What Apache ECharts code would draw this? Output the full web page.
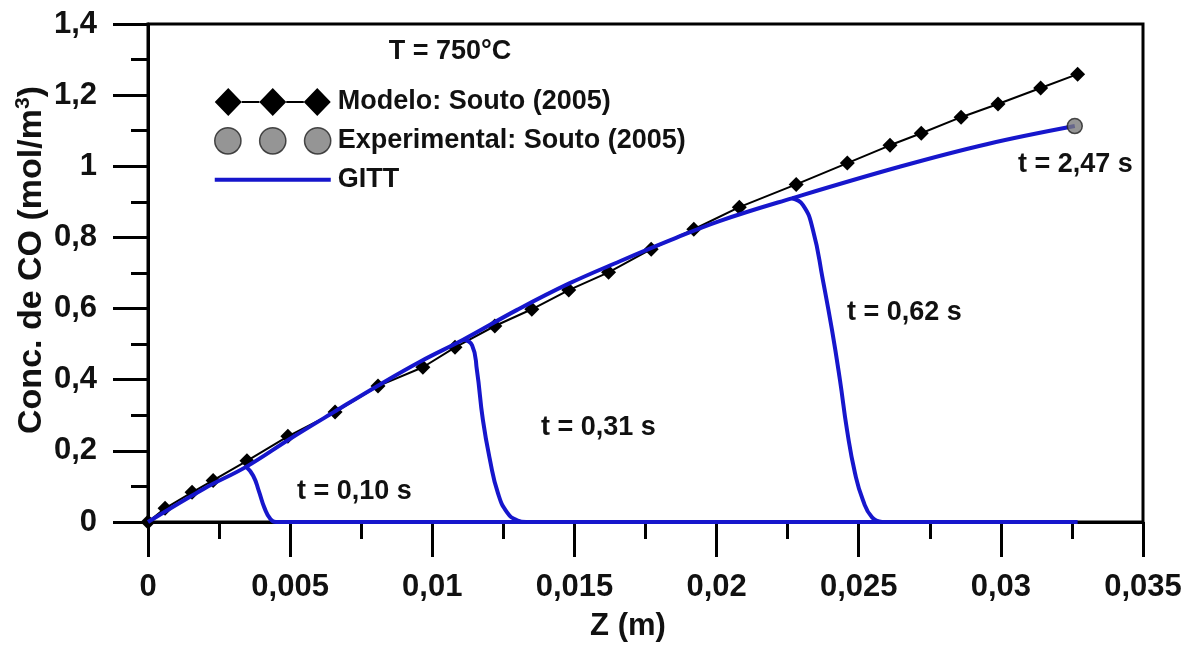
<!DOCTYPE html>
<html>
<head>
<meta charset="utf-8">
<script src="https://cdn.jsdelivr.net/npm/echarts@6/dist/echarts.min.js"></script>
<style>
html,body{margin:0;padding:0;background:#fff;}
#c{width:1188px;height:645px;}
</style>
</head>
<body>
<div id="c"></div>
<script>
// ---- data ----
const xTicksMax = 0.035;
const yTicksMax = 1.4;

const zModelo = [0, 0.0006, 0.00155, 0.00229, 0.00348, 0.00492, 0.00658, 0.00809, 0.00967, 0.0108, 0.0122, 0.0135, 0.0148, 0.0162, 0.0177, 0.0192, 0.0208, 0.0228, 0.0246, 0.0261, 0.0272, 0.0286, 0.0299, 0.0314, 0.0327];
const cModelo = [0, 0.0385, 0.0835, 0.117, 0.172, 0.241, 0.309, 0.382, 0.435, 0.491, 0.551, 0.598, 0.652, 0.702, 0.767, 0.823, 0.885, 0.949, 1.009, 1.059, 1.093, 1.138, 1.175, 1.220, 1.259];

const zExp = [0.0326];
const cExp = [1.113];

// GITT, t = 2,47 s (steady profile)
const zGitt247 = [0, 0.002, 0.00345, 0.005, 0.0066, 0.0081, 0.0096, 0.0111, 0.013, 0.0148, 0.0166, 0.0184, 0.0201, 0.02265, 0.0265, 0.0295, 0.0326];
const cGitt247 = [0, 0.095, 0.155, 0.234, 0.312, 0.384, 0.452, 0.513, 0.597, 0.670, 0.733, 0.793, 0.846, 0.910, 1.000, 1.062, 1.113];

// GITT, t = 0,10 s (front + zero tail)
const zGitt010 = [0.00345, 0.0037, 0.0039, 0.0041, 0.0043, 0.0045, 0.0327];
const cGitt010 = [0.155, 0.130, 0.087, 0.039, 0.009, 0, 0];

// GITT, t = 0,31 s
const zGitt031 = [0.0111, 0.0114, 0.01157, 0.01178, 0.01203, 0.01231, 0.01263, 0.01298, 0.0133];
const cGitt031 = [0.513, 0.497, 0.427, 0.287, 0.174, 0.081, 0.027, 0.005, 0];

// GITT, t = 0,62 s
const zGitt062 = [0.02265, 0.02304, 0.02339, 0.02374, 0.02406, 0.02434, 0.02459, 0.02487, 0.02515, 0.02547, 0.02582];
const cGitt062 = [0.910, 0.891, 0.821, 0.680, 0.540, 0.399, 0.258, 0.137, 0.061, 0.013, 0];

const legendNames = ['Modelo: Souto (2005)', 'Experimental: Souto (2005)', 'GITT'];
const annotations = ['t = 0,10 s', 't = 0,31 s', 't = 0,62 s', 't = 2,47 s'];

// ---- chart ----
const zip = (a, b) => a.map((v, i) => [v, b[i]]);
const FONT = 'Liberation Sans, Arial, sans-serif';
const BLUE = '#1616cc';
const fmt = v => String(Number(v.toFixed(4))).replace('.', ',');

const diamondsIcon = 'path://M0 14 L13.5 0 L27 14 L13.5 28 Z M44.5 14 L58 0 L71.5 14 L58 28 Z M89 14 L102.5 0 L116 14 L102.5 28 Z M27 13 L44.5 13 L44.5 15 L27 15 Z M71.5 13 L89 13 L89 15 L71.5 15 Z';
const circlesIcon = 'path://M0.5 14 A13 13 0 1 1 26.5 14 A13 13 0 1 1 0.5 14 Z M45 14 A13 13 0 1 1 71 14 A13 13 0 1 1 45 14 Z M89.5 14 A13 13 0 1 1 115.5 14 A13 13 0 1 1 89.5 14 Z';
const lineIcon = 'path://M0 0 L0.01 0 L0 0.01 Z M116 28 L115.99 28 L116 27.99 Z M0 12 L116 12 L116 16 L0 16 Z';

const chart = echarts.init(document.getElementById('c'));
const gittLine = {color: BLUE, width: 4};
const TXT = '#111';

chart.setOption({
  animation: false,
  backgroundColor: '#fff',
  grid: {left: 148, right: 45, top: 24, bottom: 123, show: true, borderColor: '#000', borderWidth: 3, backgroundColor: 'transparent'},
  xAxis: {
    type: 'value', min: 0, max: xTicksMax, interval: 0.005,
    axisLine: {show: true, onZero: false, lineStyle: {color: '#000', width: 3}},
    axisTick: {show: true, inside: false, length: 35, lineStyle: {color: '#000', width: 3}},
    minorTick: {show: true, splitNumber: 2, length: 17, lineStyle: {color: '#000', width: 3}},
    splitLine: {show: false},
    axisLabel: {fontFamily: FONT, fontWeight: 'bold', fontSize: 31, color: TXT, margin: 50, formatter: fmt, showMinLabel: true, showMaxLabel: true}
  },
  yAxis: {
    type: 'value', min: 0, max: yTicksMax, interval: 0.2,
    axisLine: {show: true, onZero: false, lineStyle: {color: '#000', width: 3}},
    axisTick: {show: true, inside: false, length: 35, lineStyle: {color: '#000', width: 3}},
    minorTick: {show: true, splitNumber: 2, length: 17, lineStyle: {color: '#000', width: 3}},
    splitLine: {show: false},
    axisLabel: {fontFamily: FONT, fontWeight: 'bold', fontSize: 31, color: TXT, margin: 51, formatter: fmt, showMinLabel: true, showMaxLabel: true}
  },
  legend: {
    orient: 'vertical', left: 209, top: 83, itemWidth: 116, itemHeight: 28, itemGap: 11,
    selectedMode: false,
    textStyle: {fontFamily: FONT, fontWeight: 'bold', fontSize: 27, color: TXT, padding: [0, 0, 0, 2]},
    data: [
      {name: legendNames[0], icon: diamondsIcon, itemStyle: {color: '#000', borderWidth: 0}},
      {name: legendNames[1], icon: circlesIcon, itemStyle: {color: '#7a7a7a', borderColor: '#222', borderWidth: 1.5}},
      {name: legendNames[2], icon: lineIcon, itemStyle: {color: BLUE, borderWidth: 0}}
    ]
  },
  graphic: [
    {type: 'text', x: 450, y: 52, style: {text: 'T = 750°C', font: 'bold 27px ' + FONT, fill: TXT, align: 'center', verticalAlign: 'middle'}},
    {type: 'text', x: 297, y: 492, style: {text: annotations[0], font: 'bold 27px ' + FONT, fill: TXT, align: 'left', verticalAlign: 'middle'}},
    {type: 'text', x: 541, y: 428, style: {text: annotations[1], font: 'bold 27px ' + FONT, fill: TXT, align: 'left', verticalAlign: 'middle'}},
    {type: 'text', x: 847, y: 313, style: {text: annotations[2], font: 'bold 27px ' + FONT, fill: TXT, align: 'left', verticalAlign: 'middle'}},
    {type: 'text', x: 1018, y: 165, style: {text: annotations[3], font: 'bold 27px ' + FONT, fill: TXT, align: 'left', verticalAlign: 'middle'}},
    {type: 'text', x: 628, y: 626, style: {text: 'Z (m)', font: 'bold 31px ' + FONT, fill: TXT, align: 'center', verticalAlign: 'middle'}},
    {type: 'text', x: 32, y: 260, rotation: Math.PI / 2, style: {
      text: '{n|Conc. de CO (mol/m}{s|3}{n|)}', align: 'center', verticalAlign: 'middle',
      rich: {
        n: {fontFamily: FONT, fontWeight: 'bold', fontSize: 34, fill: TXT, lineHeight: 38},
        s: {fontFamily: FONT, fontWeight: 'bold', fontSize: 21, fill: TXT, verticalAlign: 'top', lineHeight: 22}
      }
    }}
  ],
  series: [
    {name: legendNames[0], type: 'line', data: zip(zModelo, cModelo), symbol: 'diamond', symbolSize: 15,
     itemStyle: {color: '#000'}, lineStyle: {color: '#000', width: 2}, z: 2},
    {name: legendNames[2], type: 'line', data: zip(zGitt247, cGitt247), showSymbol: false, symbol: 'none', smooth: 0.4, lineStyle: gittLine, itemStyle: {color: BLUE}, z: 3},
    {name: legendNames[2], type: 'line', data: zip(zGitt010, cGitt010), showSymbol: false, symbol: 'none', smooth: 0.5, lineStyle: gittLine, itemStyle: {color: BLUE}, z: 3},
    {name: legendNames[2], type: 'line', data: zip(zGitt031, cGitt031), showSymbol: false, symbol: 'none', smooth: 0.5, lineStyle: gittLine, itemStyle: {color: BLUE}, z: 3},
    {name: legendNames[2], type: 'line', data: zip(zGitt062, cGitt062), showSymbol: false, symbol: 'none', smooth: 0.5, lineStyle: gittLine, itemStyle: {color: BLUE}, z: 3},
    {name: legendNames[1], type: 'scatter', data: zip(zExp, cExp), symbol: 'circle', symbolSize: 15,
     itemStyle: {color: '#7a7a7a', borderColor: '#222', borderWidth: 1.5}, z: 4}
  ]
});
</script>
</body>
</html>
